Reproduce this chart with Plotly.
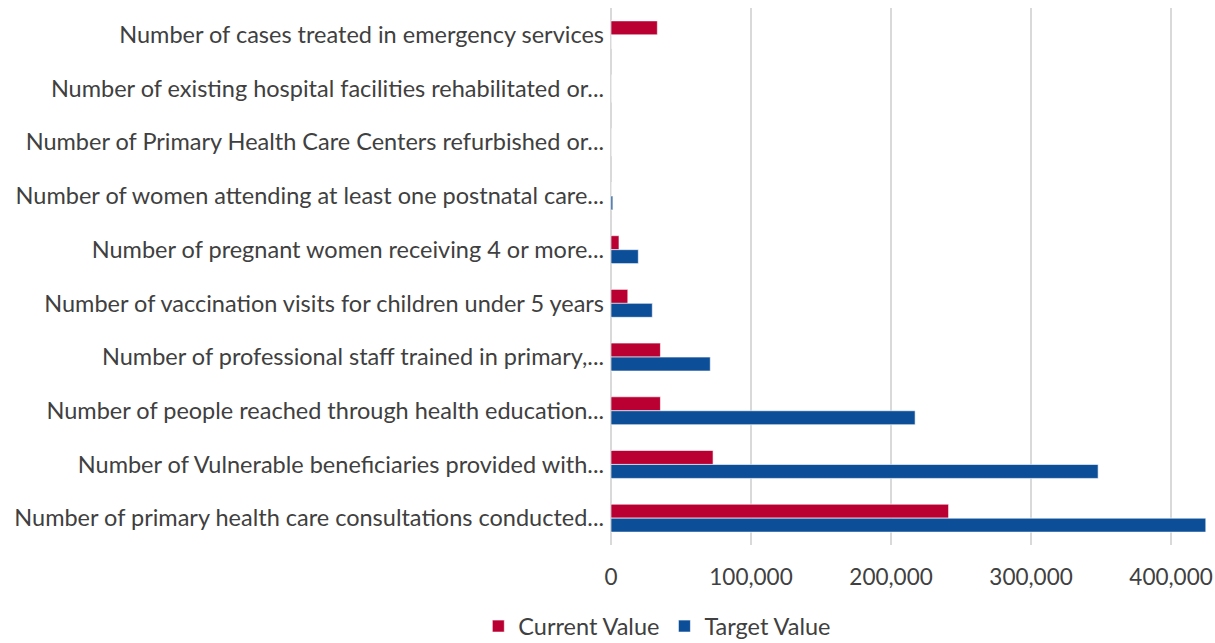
import plotly.graph_objects as go

categories = [
    "Number of cases treated in emergency services",
    "Number of existing hospital facilities rehabilitated or...",
    "Number of Primary Health Care Centers refurbished or...",
    "Number of women attending at least one postnatal care...",
    "Number of pregnant women receiving 4 or more...",
    "Number of vaccination visits for children under 5 years",
    "Number of professional staff trained in primary,...",
    "Number of people reached through health education...",
    "Number of Vulnerable beneficiaries provided with...",
    "Number of primary health care consultations conducted...",
]
current_values = [33100, 0, 0, 0, 5700, 12000, 35300, 35300, 72900, 241100]
target_values = [0, 0, 0, 1300, 19500, 29500, 70900, 217200, 347900, 424800]
tick_values = [0, 100000, 200000, 300000, 400000]
tick_labels = ["0", "100,000", "200,000", "300,000", "400,000"]

font_family = "Lato, Liberation Sans, sans-serif"

fig = go.Figure()
fig.add_trace(go.Bar(
    y=categories, x=current_values, orientation="h", name="Current Value",
    marker=dict(color="#BA0032", line=dict(color="rgba(255,255,255,0.6)", width=1)),
))
fig.add_trace(go.Bar(
    y=categories, x=target_values, orientation="h", name="Target Value",
    marker=dict(color="#0D4E98", line=dict(color="rgba(255,255,255,0.6)", width=1)),
))

fig.update_layout(
    width=1215, height=643,
    barmode="group", bargap=0.48, bargroupgap=0,
    plot_bgcolor="white", paper_bgcolor="white",
    margin=dict(l=611, r=5, t=8, b=98, autoexpand=False),
    font=dict(family=font_family, size=23.5, color="#404040"),
    showlegend=True,
    legend=dict(orientation="h", x=0.541, xanchor="center", xref="container",
                y=0.026, yanchor="middle", yref="container",
                font=dict(size=23.5, color="#404040"),
                itemwidth=30, traceorder="normal"),
    xaxis=dict(range=[0, 427800], tickvals=tick_values, ticktext=tick_labels,
               showgrid=True, gridcolor="#D9D9D9", gridwidth=2,
               zeroline=True, zerolinecolor="#D9D9D9", zerolinewidth=2,
               showline=False, ticks="", tickfont=dict(size=22.5),
               ticklabelstandoff=16, automargin=False),
    yaxis=dict(autorange="reversed", showgrid=False, showline=False, ticks="",
               ticklabelstandoff=6, tickfont=dict(size=23.5), automargin=False),
)

fig.write_html("out.html", config={"displayModeBar": False},
               post_script="document.body.style.margin='0';")
